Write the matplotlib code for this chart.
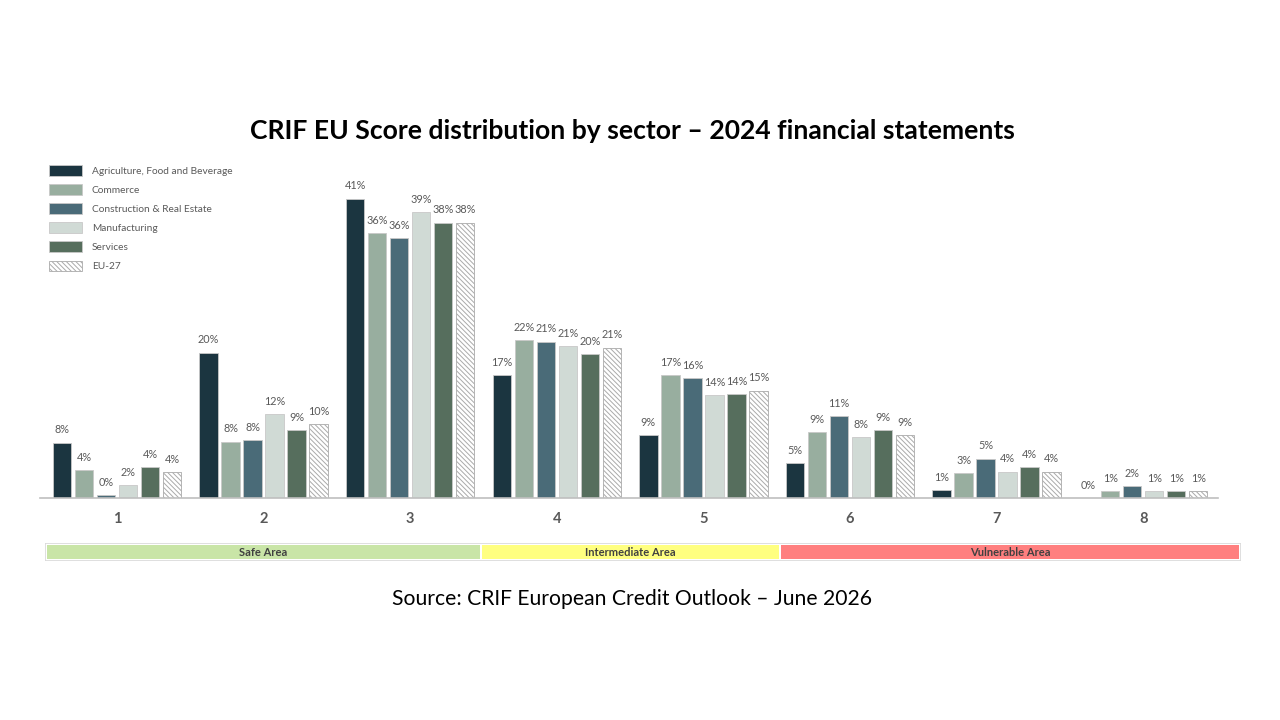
import matplotlib
matplotlib.use("Agg")
import matplotlib.pyplot as plt
import numpy as np
from matplotlib.patches import Patch, Rectangle

plt.rcParams['font.family'] = ['Lato', 'DejaVu Sans']
plt.rcParams['hatch.color'] = '#444444'
plt.rcParams['hatch.linewidth'] = 0.7

title = "CRIF EU Score distribution by sector \u2013 2024 financial statements"
source = "Source: CRIF European Credit Outlook \u2013 June 2026"
scores = ["1", "2", "3", "4", "5", "6", "7", "8"]
series_names = ["Agriculture, Food and Beverage", "Commerce", "Construction & Real Estate",
                "Manufacturing", "Services", "EU-27"]
agri = [7.6, 19.9, 41.0, 16.8, 8.6, 4.8, 1.1, 0.0]
commerce = [3.8, 7.7, 36.3, 21.6, 16.8, 9.0, 3.4, 0.9]
construction = [0.4, 7.9, 35.6, 21.4, 16.4, 11.2, 5.4, 1.6]
manufacturing = [1.8, 11.5, 39.2, 20.8, 14.1, 8.3, 3.6, 0.9]
services = [4.2, 9.3, 37.7, 19.7, 14.2, 9.3, 4.2, 0.9]
eu27 = [3.5, 10.1, 37.7, 20.6, 14.7, 8.6, 3.6, 0.9]
areas = ["Safe Area", "Intermediate Area", "Vulnerable Area"]

series = [agri, commerce, construction, manufacturing, services, eu27]
colors = ["#1B3540", "#98AE9F", "#4A6B78", "#D0DAD5", "#566E5D", "white"]
hatches = [None, None, None, None, None, "\\\\\\\\\\\\\\"]
area_colors = ["#C9E5A7", "#FFFF80", "#FF7F7F"]

W, H = 1280, 720
fig = plt.figure(figsize=(12.8, 7.2), dpi=100)

# main axes: x pixels 40..1218, y pixels 160..498
ax = fig.add_axes([40 / W, (H - 498) / H, (1218 - 40) / W, (498 - 160) / H])
x = np.arange(len(scores))
step = 0.15
width = 0.125
for i, (vals, c, h) in enumerate(zip(series, colors, hatches)):
    pos = x + (i - 2.5) * step
    ax.bar(pos, vals, width=width, color=c, hatch=h,
           edgecolor="#C8C8C8" if h is None else "#AAAAAA", linewidth=0.6,
           label=series_names[i])
    for p, v in zip(pos, vals):
        ax.text(p, v + 1.0, f"{round(v):.0f}%", ha="center", va="bottom",
                fontsize=7.8, color="#595959")
ax.set_xlim(-0.525, 7.51)
ax.set_ylim(0, 46.3)
ax.set_xticks(x)
ax.set_xticklabels(scores, fontsize=10.5, fontweight="bold", color="#595959")
ax.tick_params(axis="x", length=0, pad=10)
ax.set_yticks([])
for s in ["top", "right", "left"]:
    ax.spines[s].set_visible(False)
ax.spines["bottom"].set_color("#BFBFBF")
ax.spines["bottom"].set_linewidth(1.2)

# legend
handles = [Patch(facecolor=c, hatch=h, edgecolor="#AAAAAA" if h else "#C8C8C8", linewidth=0.6)
           for c, h in zip(colors, hatches)]
fig.legend(handles, series_names, loc="upper left",
           bbox_to_anchor=(40 / W, (H - 156) / H), frameon=False,
           fontsize=7.3, handlelength=3.2, handleheight=1.25, labelspacing=0.82,
           handletextpad=1.0, labelcolor="#595959")

# area band
bx = fig.add_axes([45 / W, (H - 561) / H, (1241 - 45) / W, 18 / H])
bx.set_xlim(45, 1241)
bx.set_ylim(0, 1)
bx.axis("off")
bx.add_patch(Rectangle((45, 0), 1196, 1, facecolor="white", edgecolor="#D9D9D9", linewidth=1.2))
px = [(47, 480), (482, 779), (781, 1239)]
for (a, b), name, col in zip(px, areas, area_colors):
    bx.add_patch(Rectangle((a, 0.12), b - a, 0.76, facecolor=col, edgecolor="none"))
    bx.text((a + b) / 2, 0.45, name, ha="center", va="center", fontsize=8,
            color="#404040", fontweight="bold")

fig.text(632 / W, (H - 131) / H, title, ha="center", va="center",
         fontsize=19.1, fontweight="bold", color="black")
fig.text(632 / W, (H - 599) / H, source, ha="center", va="center",
         fontsize=15.2, color="black")

fig.savefig("out.png", dpi=100, facecolor="white")
